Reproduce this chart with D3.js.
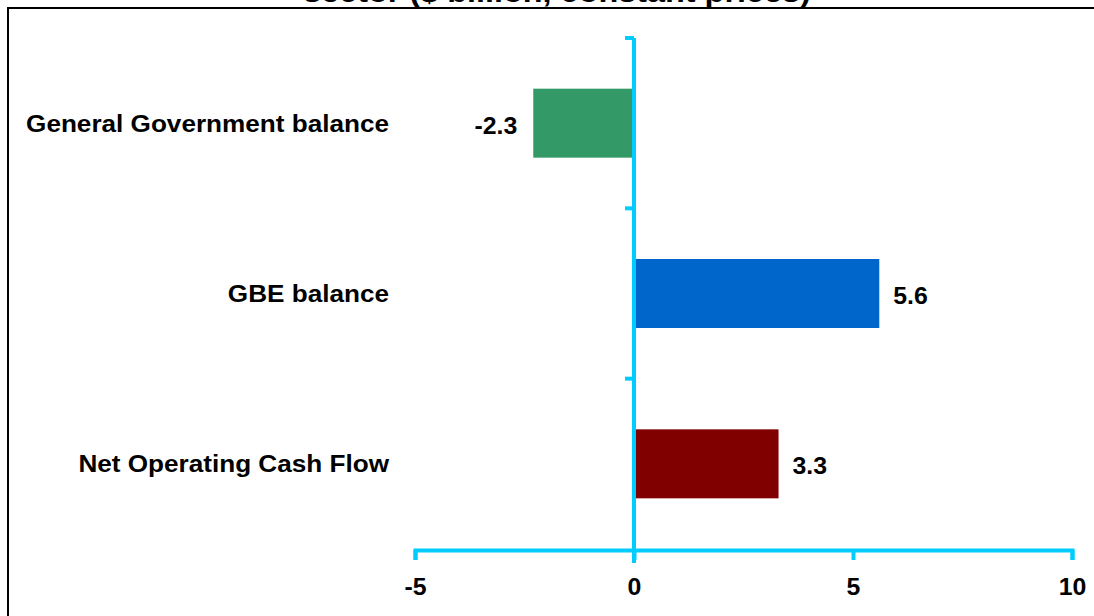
<!DOCTYPE html>
<html><head><meta charset="utf-8">
<script src="https://cdn.jsdelivr.net/npm/d3@7"></script>
<style>
html,body{margin:0;padding:0;background:#fff;overflow:hidden;}
svg{display:block;font-family:"Liberation Sans",Arial,sans-serif;}
</style></head>
<body>
<svg id="chart" width="1094" height="616"></svg>
<script>
const titleText = "sector ($ billion, constant prices)";
const categories = ["General Government balance", "GBE balance", "Net Operating Cash Flow"];
const values = [-2.3, 5.6, 3.3];
const barColors = ["#339966", "#0066CC", "#800000"];
const xTicks = [-5, 0, 5, 10];
const xDomain = [-5, 10];

const svg = d3.select("#chart");
const axisColor = "#00CCFF";

// frame
svg.append("rect").attr("x", 8).attr("y", 8).attr("width", 1200).attr("height", 800)
  .attr("fill", "none").attr("stroke", "#000").attr("stroke-width", 2);

// title (mostly clipped above, as in the reference)
svg.append("text").attr("transform", "translate(557,1.5) scale(1.08,1)").attr("text-anchor", "middle")
  .attr("font-size", 30).attr("font-weight", "bold").attr("fill", "#000").text(titleText);

const x = d3.scaleLinear().domain(xDomain).range([415, 1072]);
const y = d3.scaleBand().domain(categories).range([38, 549]).paddingInner(0.595).paddingOuter(0.2975);

// bars
svg.selectAll("rect.bar").data(values).enter().append("rect").attr("class", "bar")
  .attr("x", d => x(Math.min(0, d)))
  .attr("width", d => Math.abs(x(d) - x(0)))
  .attr("y", (d, i) => y(categories[i]))
  .attr("height", y.bandwidth())
  .attr("fill", (d, i) => barColors[i]);

// x axis
const xAxis = d3.axisBottom(x).tickValues(xTicks).tickSize(10).tickSizeOuter(10).tickFormat(d => String(d));
const gx = svg.append("g").attr("transform", "translate(0,550)").call(xAxis);
gx.select(".domain").attr("stroke", axisColor).attr("stroke-width", 4).attr("fill", "none");
gx.selectAll(".tick line").attr("stroke", axisColor).attr("stroke-width", 4);
gx.selectAll(".tick text").attr("fill", "#000").attr("font-size", 23).attr("font-weight", "bold")
  .attr("font-family", "'Liberation Sans', Arial, sans-serif").attr("dy", null).attr("y", 0)
  .attr("transform", "translate(0,45) scale(1.08,1)");

// y axis (vertical line at zero with ticks at category boundaries)
const [y0, y1] = y.range();
const step = y.step();
const boundaries = d3.range(categories.length).map(i => y0 + i * step);
svg.append("line").attr("x1", x(0)).attr("x2", x(0)).attr("y1", y0).attr("y2", y1 + 14)
  .attr("stroke", axisColor).attr("stroke-width", 4);
svg.selectAll("line.ytick").data(boundaries).enter().append("line").attr("class", "ytick")
  .attr("x1", x(0) - 9).attr("x2", x(0)).attr("y1", d => d).attr("y2", d => d)
  .attr("stroke", axisColor).attr("stroke-width", 4);

// category labels
svg.selectAll("text.cat").data(categories).enter().append("text").attr("class", "cat")
  .attr("transform", d => `translate(389,${y(d) + y.bandwidth() / 2 + 8.5}) scale(1.08,1)`)
  .attr("text-anchor", "end").attr("font-size", 24.2).attr("font-weight", "bold").attr("fill", "#000")
  .text(d => d);

// value labels
svg.selectAll("text.val").data(values).enter().append("text").attr("class", "val")
  .attr("transform", (d, i) => `translate(${d < 0 ? x(d) - 16 : x(d) + 14},${y(categories[i]) + y.bandwidth() / 2 + 10.5}) scale(1.08,1)`)
  .attr("text-anchor", d => d < 0 ? "end" : "start")
  .attr("font-size", 23).attr("font-weight", "bold").attr("fill", "#000")
  .text(d => d.toFixed(1));
</script>
</body></html>
